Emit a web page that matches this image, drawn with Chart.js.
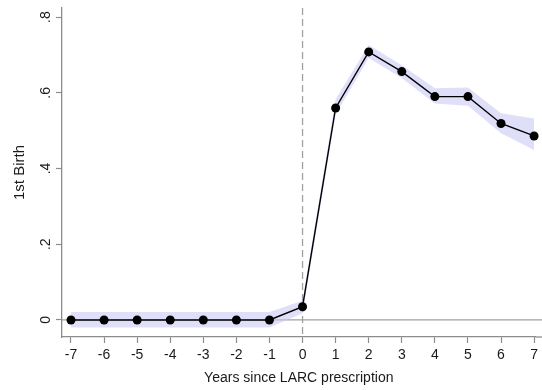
<!DOCTYPE html>
<html>
<head>
<meta charset="utf-8">
<script src="https://cdn.jsdelivr.net/npm/chart.js@4.4.1/dist/chart.umd.min.js"></script>
<style>
  html, body { margin: 0; padding: 0; background: #fff; }
  #wrap { width: 542px; height: 390px; }
</style>
</head>
<body>
<div id="wrap"><canvas id="chart"></canvas></div>
<script>
// years relative to LARC prescription
const years = [-7, -6, -5, -4, -3, -2, -1, 0, 1, 2, 3, 4, 5, 6, 7];
const birth = [0, 0, 0, 0, 0, 0, 0, 0.035, 0.56, 0.708, 0.656, 0.59, 0.59, 0.519, 0.486];
const ciLow = [-0.02, -0.02, -0.02, -0.02, -0.02, -0.02, -0.02, 0.018, 0.543, 0.692, 0.639, 0.572, 0.566, 0.493, 0.449];
const ciHigh = [0.021, 0.021, 0.021, 0.021, 0.021, 0.021, 0.021, 0.051, 0.583, 0.726, 0.673, 0.612, 0.614, 0.546, 0.532];
const yTicks = [0, 0.2, 0.4, 0.6, 0.8];

const textColor = '#1a1a1a';
const axisColor = '#8c8c8c';
const bandColor = 'rgba(196, 196, 246, 0.55)';
const fontFamily = 'Liberation Sans, Arial, sans-serif';

const pts = arr => years.map((x, i) => ({x: x, y: arr[i]}));

// zero line, dashed line at year 0, and axis line run out to the right edge
const refLines = {
    id: 'refLines',
    beforeDatasetsDraw(chart) {
        const {ctx, chartArea, scales} = chart;
        const y0 = scales.y.getPixelForValue(0);
        const x0 = scales.x.getPixelForValue(0);
        ctx.save();
        ctx.strokeStyle = '#a0a0a0';
        ctx.lineWidth = 1.3;
        ctx.beginPath();
        ctx.moveTo(chartArea.left, y0);
        ctx.lineTo(chart.width, y0);
        ctx.stroke();
        ctx.strokeStyle = axisColor;
        ctx.beginPath();
        ctx.moveTo(chartArea.right, chartArea.bottom);
        ctx.lineTo(chart.width, chartArea.bottom);
        ctx.stroke();
        ctx.strokeStyle = '#a0a0a0';
        ctx.setLineDash([7, 4]);
        ctx.beginPath();
        ctx.moveTo(x0, chartArea.top);
        ctx.lineTo(x0, chartArea.bottom);
        ctx.stroke();
        ctx.restore();
    }
};

new Chart(document.getElementById('chart'), {
    type: 'line',
    data: {
        datasets: [
            {
                data: pts(birth),
                borderColor: '#000',
                borderWidth: 1.4,
                backgroundColor: '#000',
                pointRadius: 4.5,
                pointBackgroundColor: '#000',
                pointBorderWidth: 0,
                fill: false,
                tension: 0
            },
            {
                data: pts(ciLow),
                borderWidth: 0,
                pointRadius: 0,
                fill: false
            },
            {
                data: pts(ciHigh),
                borderWidth: 0,
                pointRadius: 0,
                backgroundColor: bandColor,
                fill: '-1'
            }
        ]
    },
    options: {
        responsive: true,
        maintainAspectRatio: false,
        animation: false,
        clip: false,
        layout: {padding: {top: 8, right: 1, left: 0, bottom: 0}},
        plugins: {
            legend: {display: false},
            tooltip: {enabled: false}
        },
        scales: {
            x: {
                type: 'linear',
                min: -7.272,
                max: 7.045,
                afterBuildTicks: s => { s.ticks = years.map(v => ({value: v})); },
                afterFit: s => { s.height = 53; },
                grid: {drawOnChartArea: false, tickLength: 6, tickColor: axisColor, tickWidth: 1.2},
                border: {color: axisColor, width: 1.3},
                ticks: {
                    color: textColor,
                    font: {family: fontFamily, size: 14},
                    padding: 4,
                    maxRotation: 0
                },
                title: {
                    display: true,
                    text: 'Years since LARC prescription',
                    color: textColor,
                    font: {family: fontFamily, size: 14},
                    padding: {top: 0, bottom: 3}
                }
            },
            y: {
                type: 'linear',
                min: -0.045,
                max: 0.824,
                afterBuildTicks: s => { s.ticks = yTicks.map(v => ({value: v})); },
                afterFit: s => { s.width = 62; s.paddingTop = 0; s.paddingBottom = 0; },
                grid: {drawOnChartArea: false, tickLength: 6, tickColor: axisColor, tickWidth: 1.2},
                border: {color: axisColor, width: 1.3},
                ticks: {
                    color: textColor,
                    font: {family: fontFamily, size: 14},
                    minRotation: 90,
                    maxRotation: 90,
                    crossAlign: 'center',
                    padding: 4,
                    callback: v => v === 0 ? '0' : String(v).replace('0.', '.')
                },
                title: {
                    display: true,
                    text: '1st Birth',
                    color: textColor,
                    font: {family: fontFamily, size: 15},
                    padding: {top: 11, bottom: 0}
                }
            }
        }
    },
    plugins: [refLines]
});
</script>
</body>
</html>
